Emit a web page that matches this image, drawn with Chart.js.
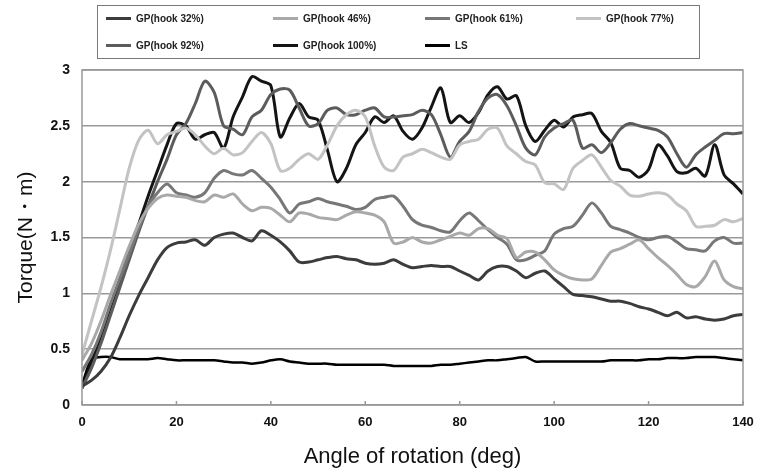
<!DOCTYPE html>
<html>
<head>
<meta charset="utf-8">
<script src="https://cdn.jsdelivr.net/npm/chart.js@4.4.1/dist/chart.umd.min.js"></script>
<style>
  body { margin: 0; background: #fff; }
  #wrap { position: relative; width: 758px; height: 472px; }
  #legend { position: absolute; left: 97px; top: 5px; width: 603px; height: 54px; border: 1px solid #7a7a7a; box-sizing: border-box; font: bold 10px "Liberation Sans", Arial, sans-serif; color: #222; }
  .item { position: absolute; display: flex; align-items: center; white-space: nowrap; }
  .swatch { width: 25px; height: 3px; margin-right: 5px; }
</style>
</head>
<body>
<div id="wrap">
  <canvas id="torqueChart"></canvas>
  <div id="legend"></div>
</div>
<script>
const angles = [0,2,4,6,8,10,12,14,16,18,20,22,24,26,28,30,32,34,36,38,40,42,44,46,48,50,52,54,56,58,60,62,64,66,68,70,72,74,76,78,80,82,84,86,88,90,92,94,96,98,100,102,104,106,108,110,112,114,116,118,120,122,124,126,128,130,132,134,136,138,140];

const hook32 = [0.17,0.22,0.3,0.42,0.6,0.8,0.98,1.14,1.3,1.41,
  1.45,1.46,1.48,1.43,1.5,1.53,1.54,1.5,1.47,1.56,
  1.52,1.46,1.38,1.28,1.28,1.3,1.32,1.33,1.31,1.3,
  1.27,1.26,1.27,1.3,1.26,1.23,1.24,1.25,1.24,1.24,
  1.2,1.16,1.12,1.2,1.24,1.24,1.2,1.14,1.18,1.2,
  1.13,1.06,0.99,0.98,0.97,0.95,0.93,0.93,0.91,0.88,
  0.86,0.83,0.8,0.83,0.78,0.79,0.77,0.76,0.77,0.8,0.81];
const hook46 = [0.4,0.55,0.75,0.98,1.2,1.42,1.62,1.76,1.85,1.88,
  1.87,1.86,1.83,1.82,1.88,1.86,1.89,1.8,1.74,1.77,
  1.76,1.7,1.64,1.72,1.71,1.68,1.67,1.66,1.7,1.73,
  1.72,1.7,1.64,1.45,1.46,1.5,1.46,1.45,1.48,1.51,
  1.54,1.52,1.58,1.58,1.52,1.49,1.32,1.37,1.37,1.3,
  1.21,1.16,1.13,1.12,1.13,1.25,1.37,1.4,1.44,1.48,
  1.4,1.32,1.25,1.17,1.08,1.06,1.15,1.29,1.12,1.06,1.04];
const hook61 = [0.3,0.45,0.65,0.9,1.13,1.35,1.58,1.78,1.9,1.98,
  1.9,1.88,1.86,1.9,2.03,2.1,2.07,2.06,2.1,2.03,
  1.95,1.84,1.72,1.8,1.82,1.85,1.82,1.8,1.78,1.75,
  1.77,1.84,1.86,1.87,1.78,1.66,1.61,1.59,1.56,1.55,
  1.65,1.72,1.65,1.57,1.5,1.44,1.3,1.3,1.34,1.38,
  1.53,1.58,1.6,1.7,1.81,1.72,1.6,1.57,1.54,1.5,
  1.48,1.5,1.51,1.46,1.4,1.39,1.38,1.47,1.5,1.45,1.45];
const hook77 = [0.45,0.75,1.05,1.38,1.75,2.12,2.37,2.46,2.34,2.42,
  2.45,2.48,2.42,2.32,2.25,2.3,2.24,2.26,2.36,2.44,
  2.34,2.1,2.12,2.2,2.25,2.2,2.33,2.5,2.6,2.64,
  2.58,2.32,2.13,2.1,2.22,2.25,2.29,2.26,2.22,2.2,
  2.33,2.36,2.38,2.47,2.48,2.32,2.25,2.18,2.15,1.99,
  1.98,1.93,2.12,2.19,2.24,2.13,2.01,1.96,1.88,1.87,
  1.89,1.9,1.88,1.8,1.74,1.6,1.6,1.61,1.66,1.64,1.67];
const hook92 = [0.15,0.33,0.55,0.8,1.05,1.3,1.55,1.78,2.0,2.2,
  2.42,2.52,2.7,2.9,2.8,2.5,2.47,2.42,2.58,2.64,
  2.78,2.83,2.82,2.66,2.5,2.52,2.64,2.66,2.6,2.6,
  2.64,2.66,2.58,2.58,2.59,2.6,2.64,2.6,2.42,2.22,
  2.36,2.45,2.63,2.75,2.78,2.68,2.5,2.3,2.24,2.4,
  2.48,2.52,2.55,2.3,2.33,2.26,2.35,2.47,2.52,2.5,
  2.48,2.46,2.4,2.25,2.13,2.24,2.31,2.37,2.43,2.43,2.44];
const hook100 = [0.15,0.38,0.62,0.87,1.12,1.38,1.62,1.87,2.1,2.33,
  2.52,2.5,2.38,2.42,2.44,2.3,2.58,2.76,2.94,2.9,
  2.86,2.4,2.57,2.7,2.58,2.55,2.28,2.0,2.12,2.33,
  2.44,2.58,2.53,2.59,2.45,2.38,2.48,2.67,2.84,2.53,
  2.59,2.53,2.62,2.78,2.85,2.74,2.77,2.5,2.36,2.46,
  2.55,2.49,2.58,2.6,2.61,2.45,2.35,2.12,2.1,2.04,
  2.11,2.33,2.23,2.09,2.08,2.12,2.05,2.33,2.06,1.98,1.89];
const ls = [0.18,0.41,0.43,0.43,0.41,0.41,0.41,0.41,0.42,0.41,
  0.4,0.4,0.4,0.4,0.4,0.39,0.38,0.38,0.37,0.38,
  0.4,0.41,0.39,0.38,0.37,0.37,0.37,0.36,0.36,0.36,
  0.36,0.36,0.36,0.35,0.35,0.35,0.35,0.35,0.36,0.36,
  0.37,0.38,0.39,0.4,0.4,0.41,0.42,0.43,0.39,0.39,
  0.39,0.39,0.39,0.39,0.39,0.39,0.4,0.4,0.4,0.4,
  0.41,0.41,0.42,0.42,0.42,0.43,0.43,0.43,0.42,0.41,0.4];

const seriesLabels = ['GP(hook 32%)','GP(hook 46%)','GP(hook 61%)','GP(hook 77%)','GP(hook 92%)','GP(hook 100%)','LS'];
const seriesData = [hook32, hook46, hook61, hook77, hook92, hook100, ls];
const seriesColors = ['#3c3c3c','#a9a9a9','#777777','#c3c3c3','#5c5c5c','#141414','#000000'];

const xTicks = [0,20,40,60,80,100,120,140];
const yTicks = [0,0.5,1,1.5,2,2.5,3];

// HTML legend in a box, grid of 4 columns
const legendCols = [8, 175, 327, 478];
const legendRows = [7, 34];
const legendEl = document.getElementById('legend');
seriesLabels.forEach((lab, i) => {
  const d = document.createElement('div');
  d.className = 'item';
  d.style.left = legendCols[i % 4] + 'px';
  d.style.top = legendRows[Math.floor(i / 4)] + 'px';
  d.innerHTML = '<span class="swatch" style="background:' + seriesColors[i] + '"></span><span>' + lab + '</span>';
  legendEl.appendChild(d);
});

// frame around plot + small inner tick marks on x axis
const framePlugin = {
  id: 'frame',
  afterDraw(chart) {
    const { ctx, chartArea: a, scales: { x } } = chart;
    ctx.save();
    ctx.strokeStyle = '#999';
    ctx.lineWidth = 1.5;
    ctx.strokeRect(a.left, a.top, a.right - a.left, a.bottom - a.top);
    ctx.beginPath();
    xTicks.forEach(v => {
      const px = x.getPixelForValue(v);
      ctx.moveTo(px, a.bottom);
      ctx.lineTo(px, a.bottom - 4);
    });
    ctx.stroke();
    ctx.restore();
  }
};

new Chart(document.getElementById('torqueChart'), {
  type: 'line',
  data: {
    datasets: seriesData.map((vals, i) => ({
      label: seriesLabels[i],
      data: vals.map((v, k) => ({ x: angles[k], y: v })),
      borderColor: seriesColors[i],
      borderWidth: i === 6 ? 2.5 : 3,
      pointRadius: 0,
      tension: 0.3,
      fill: false
    }))
  },
  options: {
    responsive: true, maintainAspectRatio: false, animation: false,
    layout: { padding: { top: 70, right: 15, left: 0, bottom: 0 } },
    plugins: { legend: { display: false }, tooltip: { enabled: false } },
    scales: {
      x: {
        type: 'linear', min: 0, max: 140,
        afterBuildTicks: s => { s.ticks = xTicks.map(v => ({ value: v })); },
        afterFit: s => { s.height = 67; },
        grid: { display: false },
        border: { display: false },
        ticks: { font: { family: 'Liberation Sans, Arial, sans-serif', size: 13, weight: 'bold' }, color: '#111', padding: 2, maxRotation: 0, callback: v => String(v) },
        title: { display: true, text: 'Angle of rotation (deg)', font: { family: 'Liberation Sans, Arial, sans-serif', size: 22 }, color: '#111', padding: { top: 0, bottom: 2 } }
      },
      y: {
        min: 0, max: 3,
        afterBuildTicks: s => { s.ticks = yTicks.map(v => ({ value: v })); },
        afterFit: s => { s.width = 82; },
        grid: { color: '#999', lineWidth: 1.5, drawTicks: false },
        border: { display: false },
        ticks: { font: { family: 'Liberation Sans, Arial, sans-serif', size: 14, weight: 'bold' }, color: '#111', padding: 12, callback: v => String(v) },
        title: { display: true, text: 'Torque(N・m)', font: { family: 'Liberation Sans, Arial, sans-serif', size: 21 }, color: '#111', padding: { top: 14, bottom: 0 } }
      }
    }
  },
  plugins: [framePlugin]
});
</script>
</body>
</html>
